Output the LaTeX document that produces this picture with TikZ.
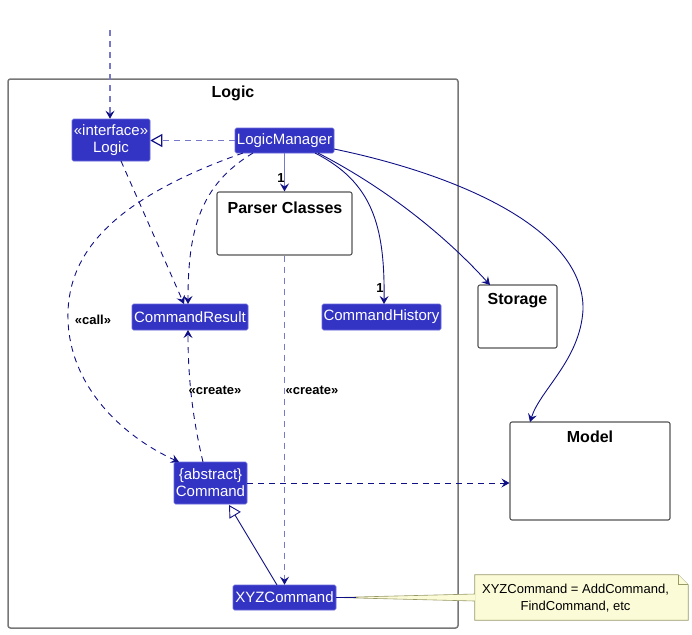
\documentclass[tikz,border=0pt]{standalone}
\usepackage{fontspec}
\setmainfont{Liberation Sans}
\usetikzlibrary{arrows.meta}
\definecolor{lfill}{HTML}{3333C4}
\definecolor{lborder}{HTML}{6A6ADC}
\definecolor{dark}{HTML}{101086}
\definecolor{light}{HTML}{7878C8}
\definecolor{pkgborder}{HTML}{555555}
\definecolor{framegray}{HTML}{777777}
\definecolor{notefill}{HTML}{FBFBD8}
\definecolor{noteborder}{HTML}{999966}
\tikzset{
  cls/.style={draw=lborder, fill=lfill, text=white, rounded corners=1.5pt,
    font=\fontsize{15}{17}\selectfont, inner sep=0pt, align=center, line width=0.6pt},
  pkgbox/.style={draw=pkgborder, fill=white, rounded corners=2pt, line width=1.1pt, inner sep=0pt},
  pkgtitle/.style={font=\bfseries\fontsize{16}{18}\selectfont, inner sep=0pt},
  lbl/.style={font=\bfseries\fontsize{13}{15}\selectfont, text=black, inner sep=1pt},
  tip/.style={-{Stealth[length=8pt,width=9pt,inset=3pt,color=dark]}},
  depdark/.style={draw=dark, dash pattern=on 6pt off 5pt, line width=0.9pt, tip},
  deplight/.style={draw=light, dash pattern=on 6pt off 5pt, line width=1.2pt, tip},
  assoc/.style={draw=dark, line width=0.9pt, tip},
  assoclight/.style={draw=light, line width=1.2pt, tip},
  inherit/.style={draw=dark, line width=0.9pt, -{Triangle[open,length=12pt,width=13pt,color=dark,fill=white]}},
  realize/.style={draw=light, dash pattern=on 6pt off 5pt, line width=1.2pt, -{Triangle[open,length=12pt,width=13pt,color=dark,fill=white]}},
  notebox/.style={draw=noteborder, fill=notefill, line width=0.7pt},
}
\begin{document}
\begin{tikzpicture}[x=1pt,y=-1pt]
\useasboundingbox (0,0) rectangle (692,634);

% Logic package frame
\node[draw=framegray, line width=1.5pt, rounded corners=2.5pt, minimum width=450pt, minimum height=549pt, inner sep=0pt] (logicpkg) at (233,353.5) {};
\node[pkgtitle] (logictitle) at (233,93.5) {Logic};

% class boxes
\node[cls, minimum width=78pt, minimum height=42pt] (logic) at (111,140) {«interface»\\Logic};
\node[cls, minimum width=99pt, minimum height=25pt] (lm) at (284.5,140.5) {LogicManager};
\node[cls, minimum width=116pt, minimum height=26pt] (cres) at (190,317) {CommandResult};
\node[cls, minimum width=119pt, minimum height=26pt] (chist) at (381.5,317) {CommandHistory};
\node[cls, minimum width=73pt, minimum height=42pt] (cmd) at (210.5,483) {\{abstract\}\\Command};
\node[cls, minimum width=103pt, minimum height=25pt] (xyz) at (284.5,597.5) {XYZCommand};

% packages
\node[pkgbox, minimum width=135pt, minimum height=63pt] (parser) at (284.5,223.5) {};
\node[pkgtitle] (parsertitle) at (285,208) {Parser Classes};
\node[pkgbox, minimum width=79pt, minimum height=63pt] (storage) at (517.5,316.5) {};
\node[pkgtitle] (storagetitle) at (517.5,300.5) {Storage};
\node[pkgbox, minimum width=160pt, minimum height=98pt] (model) at (590,471) {};
\node[pkgtitle] (modeltitle) at (590,437) {Model};

% note (frame node)
\node[minimum width=213pt, minimum height=45pt, inner sep=0pt] (note) at (581.5,597.5) {};

% external entry
\coordinate (entry) at (110,30);
\draw[deplight] (entry) -- (logic.north -| entry);

% realization LogicManager -> Logic
\draw[realize] (lm.west) -- (logic.east |- lm.west);

% Logic -> CommandResult
\draw[depdark] (121,161) -- (184,304);
% LogicManager -> CommandResult
\draw[depdark] (253,153) .. controls (200,185) and (188,230) .. (188,304);
% LogicManager -> Command (call)
\draw[depdark] (243,153) .. controls (110,200) and (66,255) .. (68,320)
  .. controls (70,385) and (120,435) .. (179,462);
\node[lbl] (calllbl) at (93,320) {«call»};

% LogicManager -> Parser Classes
\draw[assoclight] (lm.south) -- (parser.north);
\node[lbl] (one1) at (281,178) {1};

% LogicManager -> CommandHistory
\draw[assoc] (315,153) .. controls (372,182) and (385,225) .. (384,304);
\node[lbl] (one2) at (380,288) {1};

% LogicManager -> Storage
\draw[assoc] (318,153) .. controls (380,185) and (440,230) .. (490,285);

% LogicManager -> Model
\draw[assoc] (334,149) .. controls (460,175) and (585,230) .. (583,310)
  .. controls (580,360) and (540,390) .. (530,422);

% Parser -> XYZCommand
\draw[deplight] (parser.south) -- (xyz.north);
\node[lbl] (create2) at (312,390) {«create»};

% Command -> CommandResult
\draw[depdark] (203,462) .. controls (193,420) and (188,380) .. (188,330);
\node[lbl] (create1) at (215,390) {«create»};

% Command -> Model
\draw[depdark] (cmd.east) -- (model.west |- cmd.east);

% XYZCommand -> Command
\draw[inherit] (277,585) -- (229,505);

% note shape and connector
\draw[notebox]
  (note.north west) -- ([xshift=-10pt]note.north east) -- ([yshift=-10pt]note.north east)
  -- (note.south east) -- (note.south west) -- cycle;
\draw[notebox]
  ([xshift=-10pt]note.north east) -- ([xshift=-10pt,yshift=-10pt]note.north east) -- ([yshift=-10pt]note.north east);
\fill[notefill] (xyz.east) -- ([yshift=-3.5pt]note.west) -- ([yshift=3.5pt]note.west) -- cycle;
\draw[noteborder, line width=0.6pt] ([yshift=-3.5pt]note.west) -- (xyz.east) -- ([yshift=3.5pt]note.west);
\draw[dark, line width=0.9pt] (xyz.east) -- ++(20,0);
\node[inner sep=0pt, align=center, font=\fontsize{13}{17}\selectfont] (notetext) at (575.5,598) {XYZCommand = AddCommand,\\FindCommand, etc};
\end{tikzpicture}
\end{document}
